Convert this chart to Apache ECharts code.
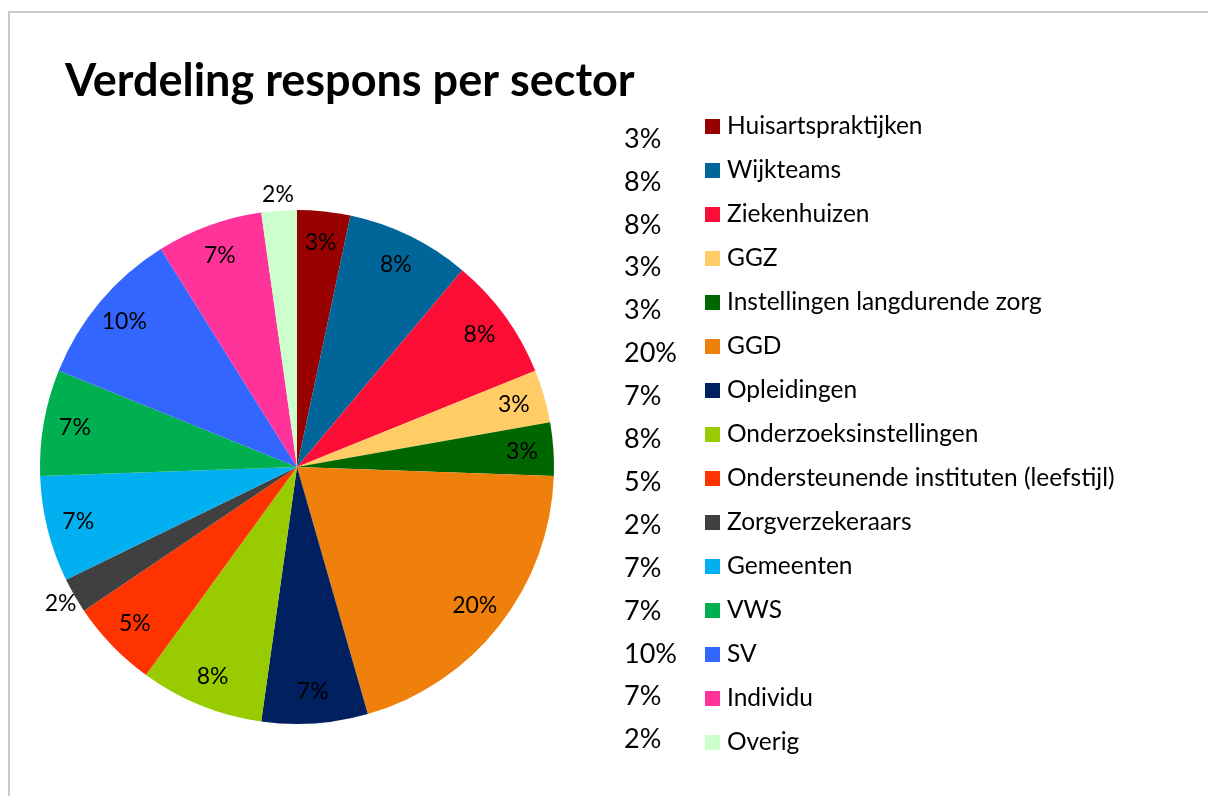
<!DOCTYPE html>
<html>
<head>
<meta charset="utf-8">
<script src="https://cdn.jsdelivr.net/npm/echarts@6/dist/echarts.min.js"></script>
<style>
  html, body { margin: 0; padding: 0; background: #fff; }
  #frame { position: absolute; left: 8px; top: 11px; width: 1300px; height: 900px;
           border-top: 2px solid #c8c8c8; border-left: 2px solid #c8c8c8; }
  #chart { position: absolute; left: 0; top: 0; width: 1208px; height: 796px; }
</style>
</head>
<body>
<div id="frame"></div>
<div id="chart"></div>
<script>
// Data
const titleText = 'Verdeling respons per sector';
const categories = ['Huisartspraktijken', 'Wijkteams', 'Ziekenhuizen', 'GGZ',
  'Instellingen langdurende zorg', 'GGD', 'Opleidingen', 'Onderzoeksinstellingen',
  'Ondersteunende instituten (leefstijl)', 'Zorgverzekeraars', 'Gemeenten', 'VWS',
  'SV', 'Individu', 'Overig'];
const counts = [3, 7, 7, 3, 3, 18, 6, 7, 5, 2, 6, 6, 9, 6, 2];
const pctLabels = ['3%', '8%', '8%', '3%', '3%', '20%', '7%', '8%', '5%', '2%',
  '7%', '7%', '10%', '7%', '2%'];
const colors = ['#990000', '#006699', '#FC0D35', '#FFCC66', '#006600', '#F0800C',
  '#002060', '#99CC00', '#FF3300', '#404040', '#00B0F0', '#00B050', '#3366FF',
  '#FF3399', '#CCFFCC'];
const outsideLabels = ['Zorgverzekeraars', 'Overig'];

const pct = {};
categories.forEach((c, i) => { pct[c] = pctLabels[i]; });

const FONT = 'Lato';
const R = 257;
const data = categories.map((c, i) => ({ name: c, value: counts[i] }));
const labelData = categories.map((c, i) => {
  const d = { name: c, value: counts[i] };
  if (outsideLabels.includes(c)) {
    d.label = { position: 'outside' };
  }
  return d;
});

const chart = echarts.init(document.getElementById('chart'), null, { renderer: 'canvas' });
chart.setOption({
  animation: false,
  color: colors,
  title: {
    text: titleText,
    left: 60, top: 54,
    textStyle: { fontFamily: FONT, fontWeight: 'bold', fontSize: 45, color: '#000' }
  },
  legend: [
    {
      orient: 'vertical', left: 700, top: 109,
      icon: 'rect', itemWidth: 15, itemHeight: 15, itemGap: 19,
      textStyle: { fontFamily: FONT, fontSize: 24.5, color: '#000', lineHeight: 24, padding: [0, 0, 0, 2] },
      data: categories
    },
    {
      orient: 'vertical', left: 614, top: 120,
      icon: 'rect', itemWidth: 1, itemHeight: 1, itemGap: 14.9,
      itemStyle: { opacity: 0 },
      formatter: n => pct[n],
      textStyle: { fontFamily: FONT, fontSize: 27, color: '#000', lineHeight: 28, padding: [0, 0, 0, -1] },
      data: categories
    }
  ],
  series: [
    {
      type: 'pie',
      center: [297, 467], radius: [0, R],
      startAngle: 90, clockwise: true,
      label: { show: false }, labelLine: { show: false },
      emphasis: { disabled: true },
      data: data
    },
    {
      type: 'pie', silent: true,
      center: [297, 467], radius: [188, R],
      startAngle: 90, clockwise: true,
      itemStyle: { color: 'transparent' },
      label: {
        show: true, position: 'inside',
        fontFamily: FONT, fontSize: 23, color: '#000',
        formatter: p => pct[p.name],
        distanceToLabelLine: 0
      },
      labelLine: { show: false, length: 16, length2: 0 },
      labelLayout: () => ({ align: 'center', verticalAlign: 'middle' }),
      emphasis: { disabled: true },
      data: labelData
    }
  ]
});
</script>
</body>
</html>
